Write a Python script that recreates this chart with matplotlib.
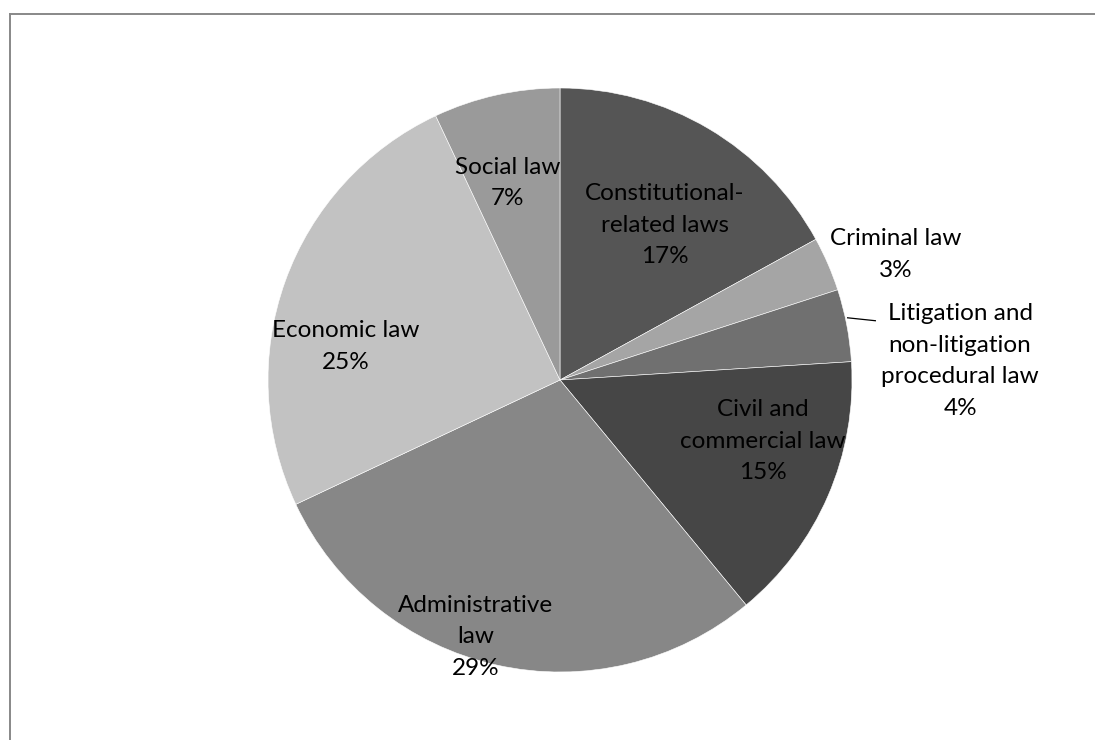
import matplotlib.pyplot as plt
from matplotlib.lines import Line2D

# share of laws by category, clockwise from 12 o'clock
categories = [
    "Constitutional-\nrelated laws",
    "Criminal law",
    "Litigation and\nnon-litigation\nprocedural law",
    "Civil and\ncommercial law",
    "Administrative\nlaw",
    "Economic law",
    "Social law",
]
shares = [17, 3, 4, 15, 29, 25, 7]
colors = ["#555555", "#a5a5a5", "#707070", "#464646", "#878787", "#c2c2c2", "#9a9a9a"]

# label centres in pie-radius units
label_pos = [
    (0.36, 0.53),
    (1.15, 0.43),
    (1.37, 0.065),
    (0.695, -0.21),
    (-0.29, -0.88),
    (-0.735, 0.115),
    (-0.18, 0.675),
]

W, H = 1095, 740
cx, cy, R = 560, 380, 292

fig = plt.figure(figsize=(W / 100, H / 100), dpi=100)
ax = fig.add_axes([(cx - R) / W, (H - cy - R) / H, 2 * R / W, 2 * R / H])

ax.pie(
    shares,
    colors=colors,
    startangle=90,
    counterclock=False,
    radius=1,
    wedgeprops=dict(edgecolor="white", linewidth=0.4),
)
ax.set_xlim(-1, 1)
ax.set_ylim(-1, 1)
ax.set_aspect("equal")
ax.axis("off")

for name, val, (x, y) in zip(categories, shares, label_pos):
    ax.text(x, y, f"{name}\n{val}%", ha="center", va="center",
            fontsize=17.5, family="Lato", color="black", linespacing=1.62,
            clip_on=False)

# leader line for the small litigation slice
ax.plot([0.985, 1.08], [0.213, 0.203], color="black", lw=0.9, clip_on=False)

# chart frame (top and left edges only are in view)
fig.add_artist(Line2D([10 / W, 1], [1 - 14 / H, 1 - 14 / H], color="#888888", lw=1.4))
fig.add_artist(Line2D([10 / W, 10 / W], [0, 1 - 14 / H], color="#888888", lw=1.4))

fig.savefig("out.png", dpi=100, facecolor="white")
